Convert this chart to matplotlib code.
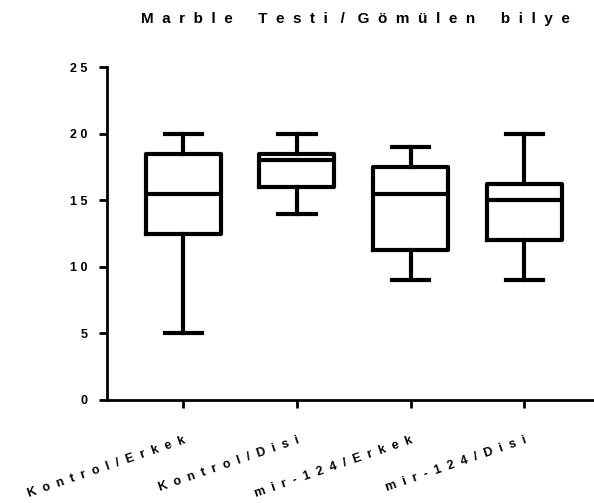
"""
Marble test box plot (Prism style) - min/max whiskers
"""
import numpy as np
import matplotlib
matplotlib.use("Agg")
import matplotlib.pyplot as plt

# ------------------------- DATA -------------------------
groups   = ["Kontrol / Erkek", "Kontrol / Disi", "mir-124 / Erkek", "mir-124 / Disi"]
whis_lo  = [5.0, 14.0, 9.0, 9.0]
q1       = [12.5, 16.0, 11.25, 12.0]
median   = [15.5, 18.0, 15.5, 15.0]
q3       = [18.5, 18.5, 17.5, 16.25]
whis_hi  = [20.0, 20.0, 19.0, 20.0]
yticks   = [0, 5, 10, 15, 20, 25]
title    = "Marble Testi / Gömülen bilye"
# --------------------------------------------------------

def track(s, n=1, w=2, ws=None):
    # Prism-style letter spacing: n spaces between letters, w between words,
    # ws around a lone "/"
    ws = w if ws is None else ws
    out = ""
    toks = s.split(" ")
    for i, tok in enumerate(toks):
        if i:
            gap = ws if (tok == "/" or toks[i - 1] == "/") else w
            out += " " * gap
        out += (" " * n).join(tok)
    return out

plt.rcParams["font.family"] = ["Liberation Sans", "DejaVu Sans"]
plt.rcParams["font.weight"] = "bold"

fig = plt.figure(figsize=(5.94, 5.03), dpi=100)
ax = fig.add_axes([107/594, 103/503, 487/594, 333/503])

stats = [dict(med=m, q1=a, q3=b, whislo=lo, whishi=hi, label=g)
         for g, lo, a, m, b, hi in zip(groups, whis_lo, q1, median, q3, whis_hi)]
pos = np.arange(1, len(groups) + 1)
LW = 3.0
ax.bxp(stats, positions=pos, widths=0.66, capwidths=0.33, showfliers=False,
       boxprops=dict(lw=LW, color="black"),
       whiskerprops=dict(lw=LW, color="black"),
       capprops=dict(lw=LW, color="black"),
       medianprops=dict(lw=LW, color="black"))

ax.set_xlim(0.329, 4.613)
ax.set_ylim(0, 25)
for s in ("top", "right"):
    ax.spines[s].set_visible(False)
for s in ("left", "bottom"):
    ax.spines[s].set_linewidth(2.0)
ax.spines["left"].set_bounds(0, 25)

ax.set_yticks(yticks)
ax.set_yticklabels([track(str(t)) for t in yticks], fontweight="bold")
ax.tick_params(axis="y", direction="out", length=6, width=2.0, pad=8, labelsize=9)
ax.tick_params(axis="x", direction="out", length=6, width=2.0, pad=19, labelsize=9)

ax.set_xticks(pos)
ax.set_xticklabels([track(g, 2, 2) for g in groups], rotation=19, ha="right", va="top",
                   rotation_mode="anchor", fontweight="bold")

fig.text(355/594, 1 - 23.5/503, track(title, 2, 6, 3), ha="center", va="baseline",
         fontsize=11, fontweight="bold")

fig.savefig("out.png", dpi=100)
